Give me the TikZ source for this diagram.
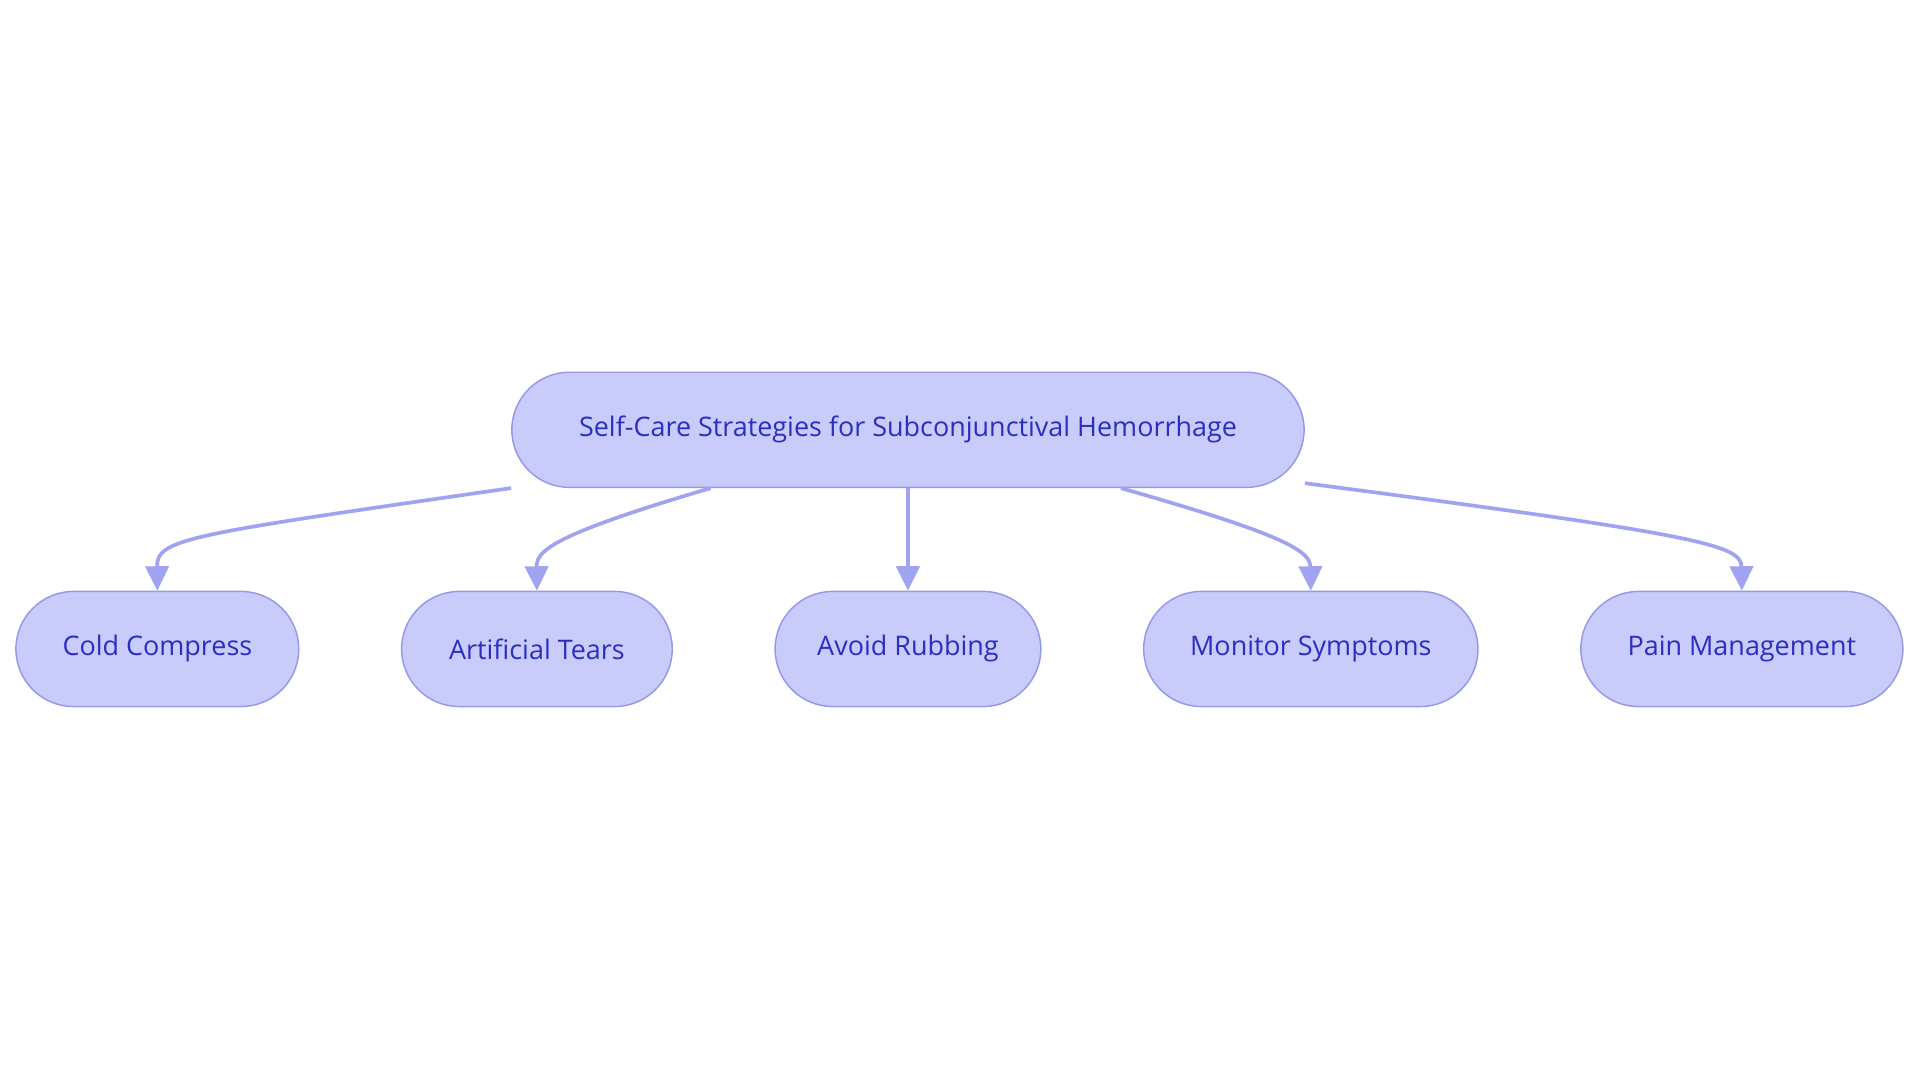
\documentclass[tikz,border=0pt]{standalone}
\usepackage{fontspec}
\setmainfont{Open Sans}
\usetikzlibrary{arrows.meta,calc}
\definecolor{nfill}{HTML}{C9CBFB}
\definecolor{ndraw}{HTML}{9599EA}
\definecolor{ntext}{HTML}{2A2EC2}
\definecolor{edge}{HTML}{A0A3F0}
\begin{document}
\begin{tikzpicture}[x=1pt,y=-1pt,
  box/.style={draw=ndraw,line width=1.2pt,fill=nfill,rounded corners=47pt,minimum height=94pt,text=ntext,font=\fontsize{22}{26}\selectfont,inner sep=0pt},
  conn/.style={draw=edge,line width=3pt,-{Triangle[length=20pt,width=19pt]}}]
\useasboundingbox (0,0) rectangle (1568,884);
\node[box,minimum width=647pt] (root) at (741.5,351) {Self-Care Strategies for Subconjunctival Hemorrhage};
\node[box,minimum width=231pt] (a) at (128.5,530) {Cold Compress};
\node[box,minimum width=221pt] (b) at (438.5,530) {Artificial Tears};
\node[box,minimum width=217pt] (c) at (741.5,530) {Avoid Rubbing};
\node[box,minimum width=273pt] (d) at (1070.5,530) {Monitor Symptoms};
\node[box,minimum width=263pt] (e) at (1422.5,530) {Pain Management};
\draw[conn] (root.south west) .. controls (150,437) and (128,440) .. (a.north);
\draw[conn] ($(root.south west)+(163,0)$) .. controls (450,437) and (438,450) .. (b.north);
\draw[conn] (root.south) -- (c.north);
\draw[conn] ($(root.south west)+(498,0)$) .. controls (1050,437) and (1070,450) .. (d.north);
\draw[conn] ($(root.south east)+(0,-4)$) .. controls (1390,437) and (1422,445) .. (e.north);
\end{tikzpicture}
\end{document}
